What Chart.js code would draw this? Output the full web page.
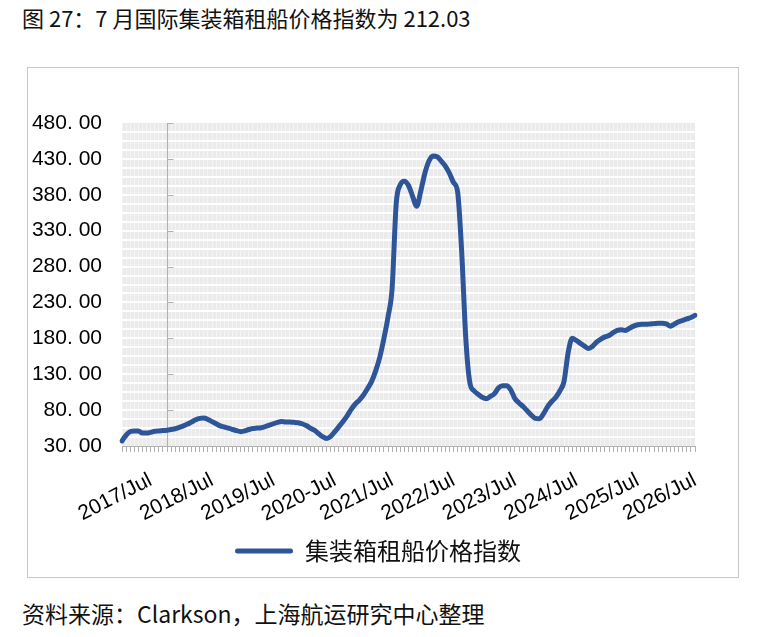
<!DOCTYPE html>
<html>
<head>
<meta charset="utf-8">
<script src="https://cdn.jsdelivr.net/npm/chart.js@4.4.1/dist/chart.umd.min.js"></script>
<style>
  html, body { margin: 0; padding: 0; background: #fff; }
  body { width: 759px; height: 637px; position: relative; overflow: hidden; }
  #title { position: absolute; left: 22px; top: 4px; font: 22px "Noto Sans CJK SC", sans-serif; color: #111; line-height: 26px; white-space: nowrap; }
  #box { position: absolute; left: 27px; top: 67px; width: 710px; height: 509px; border: 1px solid #c8c8c8; }
  #c { position: absolute; left: 0; top: 68px; }
  #footer { position: absolute; left: 22px; top: 599px; font: 23px "Noto Sans CJK SC", sans-serif; color: #111; line-height: 28px; white-space: nowrap; }
</style>
</head>
<body>
<div id="title">图 27：7 月国际集装箱租船价格指数为 212.03</div>
<div id="box"></div>
<canvas id="c" width="738" height="509"></canvas>
<div id="footer">资料来源：Clarkson，上海航运研究中心整理</div>
<script>
const seriesName = '集装箱租船价格指数';
const tickLabels = ['2017/Jul','2018/Jul','2019/Jul','2020-Jul','2021/Jul','2022/Jul','2023/Jul','2024/Jul','2025/Jul','2026/Jul'];
const tickIndex = [7, 22, 37, 52, 66, 81, 96, 111, 126, 140];
const values = [
  37, 45, 50, 51, 51, 48, 48, 49, 50.5, 51,
  51.5, 52, 53, 54, 56, 58, 60.5, 63.5, 66.5, 68.5,
  69, 67, 64, 61, 58, 56.5, 55, 53, 51.5, 50,
  51, 53, 54.5, 55, 55.5, 57, 59, 61, 63, 64,
  63.5, 63.5, 63, 62.5, 61, 58.5, 55, 52, 47.5, 43,
  40.5, 43.5, 50, 57, 64, 72, 81, 88.5, 94, 101,
  110, 120, 135, 154, 180, 210, 250, 368, 394, 399,
  393, 378, 364, 385, 410, 427, 434, 433, 427, 420,
  410, 397, 384, 300, 180, 118, 107, 102, 98, 96,
  99, 103, 111, 114, 114, 108, 96, 90, 85, 79,
  73, 68.5, 68, 75, 85, 92, 98, 107, 120, 160,
  180, 177, 173, 169, 166, 169, 175, 179, 182, 184,
  188, 191, 192, 191, 194, 197, 199, 199.5, 199.5, 200,
  200.5, 201, 201, 200, 197, 200, 203, 205, 207, 209,
  212.03
];
const yMin = 30, yMax = 480, yLabelStep = 50, yGridStep = 12.5;
const axisCrossIndex = 11;

const categories = values.map((v, i) => {
  const k = tickIndex.indexOf(i);
  return k >= 0 ? tickLabels[k] : '';
});

const lineColor = '#2e5597';
const axisGray = '#b0b0b0';
const isLabelValue = v => Math.abs(((v - yMin) / yLabelStep) - Math.round((v - yMin) / yLabelStep)) < 1e-9;

const decor = {
  id: 'decor',
  beforeDraw(chart) {
    const { ctx, chartArea: a } = chart;
    ctx.save();
    ctx.fillStyle = '#ebebeb';
    ctx.fillRect(a.left, a.top, a.width, a.height);
    ctx.restore();
  },
  beforeDatasetsDraw(chart) {
    const { ctx, scales, chartArea: a } = chart;
    const x = Math.round(scales.x.getPixelForValue(axisCrossIndex)) + 0.5;
    ctx.save();
    ctx.strokeStyle = axisGray;
    ctx.lineWidth = 1;
    ctx.beginPath();
    ctx.moveTo(x, a.top);
    ctx.lineTo(x, a.bottom + 6);
    ctx.stroke();
    for (let v = yMin; v <= yMax + 1e-9; v += yLabelStep) {
      const y = Math.round(scales.y.getPixelForValue(v)) + 0.5;
      ctx.beginPath();
      ctx.moveTo(x, y);
      ctx.lineTo(x + 6, y);
      ctx.stroke();
    }
    ctx.restore();
  }
};

new Chart(document.getElementById('c'), {
  type: 'line',
  data: {
    labels: categories,
    datasets: [{
      label: seriesName,
      data: values,
      borderColor: lineColor,
      backgroundColor: lineColor,
      borderWidth: 5,
      pointRadius: 0,
      cubicInterpolationMode: 'monotone',
      borderCapStyle: 'round',
      borderJoinStyle: 'round'
    }]
  },
  options: {
    responsive: false,
    animation: false,
    layout: { padding: { left: 61, right: 43, top: 55, bottom: 4 } },
    plugins: {
      tooltip: { enabled: false },
      legend: {
        position: 'bottom',
        labels: {
          boxWidth: 58,
          boxHeight: 5,
          padding: 8,
          color: '#111',
          font: { family: '"Noto Sans CJK SC", sans-serif', size: 24 },
          generateLabels: (chart) => Chart.defaults.plugins.legend.labels.generateLabels(chart)
            .map(l => Object.assign(l, { lineWidth: 0, fillStyle: lineColor, borderRadius: 2.5 }))
        }
      }
    },
    scales: {
      x: {
        type: 'category',
        offset: false,
        afterFit(s) { s.height = 85; s.paddingLeft = 0; s.paddingRight = 0; },
        grid: {
          color: 'rgba(255,255,255,0.45)',
          lineWidth: 1,
          drawTicks: true,
          tickLength: 6,
          tickColor: axisGray
        },
        border: { display: true, color: axisGray, width: 1 },
        ticks: {
          autoSkip: false,
          maxRotation: 27,
          minRotation: 27,
          padding: 16,
          color: '#000',
          font: { family: '"Liberation Sans", Arial, sans-serif', size: 21 }
        }
      },
      y: {
        min: yMin,
        max: yMax,
        afterFit(s) {
          s.width = 61;
          // let the tick labels extend into the left padding without being clipped
          s._computeLabelArea = () => undefined;
        },
        grid: {
          color: (c) => (c.tick && (c.tick.value === yMin || c.tick.value === yMax)) ? 'rgba(0,0,0,0)' : '#ffffff',
          lineWidth: 2,
          drawTicks: false
        },
        border: { display: false },
        ticks: {
          stepSize: yGridStep,
          autoSkip: false,
          padding: 20,
          color: '#000',
          font: { family: '"Liberation Sans", Arial, sans-serif', size: 21 },
          callback: (v) => isLabelValue(v) ? Number(v).toFixed(2).replace('.', '. ') : ''
        }
      }
    }
  },
  plugins: [decor]
});
</script>
</body>
</html>
